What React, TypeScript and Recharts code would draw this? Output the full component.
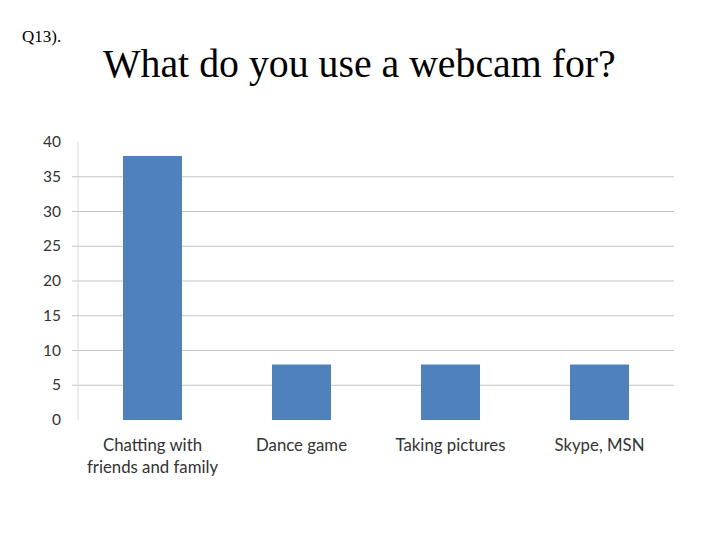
import { BarChart, Bar, XAxis, YAxis, CartesianGrid } from "recharts";

const categories = ["Chatting with\nfriends and family", "Dance game", "Taking pictures", "Skype, MSN"];
const counts = [38, 8, 8, 8];
const yTicks = [0, 5, 10, 15, 20, 25, 30, 35, 40];
const gridValues = [5, 10, 15, 20, 25, 30, 35];
const boundaryTicks = [0, 1, 2, 3, 4];

const data = categories.map((name, i) => ({ name, value: counts[i] }));

const FONT = "Lato, 'Open Sans', sans-serif";

function CategoryTick(props: any) {
    const { x, y, payload } = props;
    const lines = String(payload.value).split("\n");
    return (
        <text x={x} y={y + 25} textAnchor="middle" fill="#333" fontSize={16.8} fontFamily={FONT}>
            {lines.map((l, i) => (
                <tspan key={i} x={x} dy={i === 0 ? 0 : 22}>{l}</tspan>
            ))}
        </text>
    );
}

function ValueTick(props: any) {
    const { x, y, payload } = props;
    const v = payload.value;
    return (
        <g>
            {gridValues.includes(v) && <line x1={x + 11} x2={x + 17} y1={y} y2={y} stroke="#c4c4c4" />}
            <text x={x} y={y} dy={5} textAnchor="end" fill="#333" fontSize={15.5} fontFamily={FONT}>{v}</text>
        </g>
    );
}

export default function App() {
    return (
        <div style={{ position: "absolute", left: 0, top: 0, width: 720, height: 540, background: "#fff" }}>
            <svg width={720} height={540} style={{ position: "absolute", left: 0, top: 0 }}>
                <text x={22} y={42} fontSize={17} fontFamily="'Liberation Serif', 'Times New Roman', serif" fill="#000">Q13).</text>
                <text x={103} y={77} fontSize={39.8} fontFamily="'Liberation Serif', 'Times New Roman', serif" fill="#000">What do you use a webcam for?</text>
            </svg>
            <div style={{ position: "absolute", left: 0, top: 0 }}>
                <BarChart width={720} height={540} data={data} margin={{ top: 142, right: 46, left: 18, bottom: 60 }}>
                    <CartesianGrid horizontal vertical={false} horizontalValues={gridValues} stroke="#c4c4c4" />
                    <XAxis dataKey="name" axisLine={false} tickLine={false} tick={<CategoryTick />} height={60} interval={0} tickMargin={0} />
                    <XAxis xAxisId="b" type="number" domain={[0, 4]} ticks={boundaryTicks} allowDataOverflow axisLine={false} tickSize={5} tick={false} tickLine={{ stroke: "#d0d0d0" }} height={0} orientation="bottom" />
                    <YAxis domain={[0, 40]} ticks={yTicks} width={60} axisLine={{ stroke: "#d9d9d9" }} tickLine={false} tickSize={0} tickMargin={17} tick={<ValueTick />} />
                    <Bar dataKey="value" fill="#4f81bd" barSize={59} isAnimationActive={false} />
                </BarChart>
            </div>
        </div>
    );
}
